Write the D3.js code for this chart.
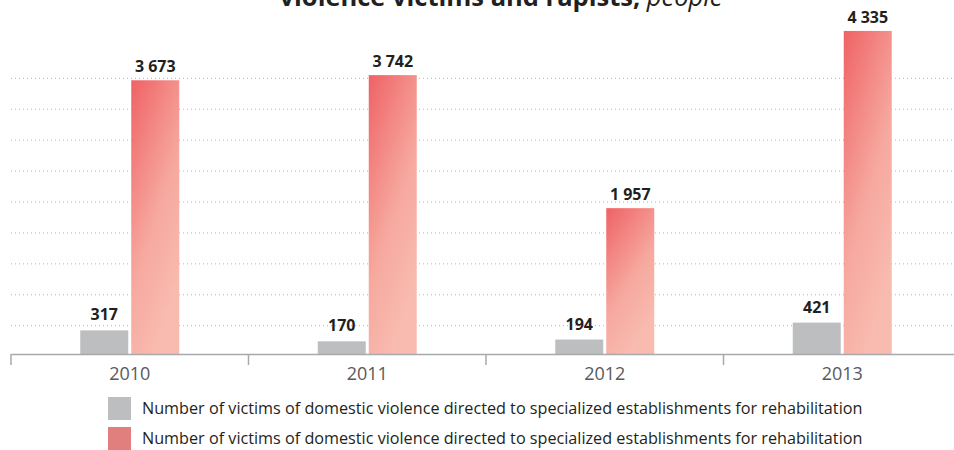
<!DOCTYPE html>
<html>
<head>
<meta charset="utf-8">
<script src="https://cdn.jsdelivr.net/npm/d3@7"></script>
<style>
    body { margin: 0; background: #fff; }
    svg { display: block; font-family: "Open Sans", "Noto Sans", sans-serif; }
</style>
</head>
<body>
<svg id="chart" width="954" height="450"></svg>
<script>
// chart data
var years = ["2010", "2011", "2012", "2013"];
var victims = [317, 170, 194, 421];
var rapists = [3673, 3742, 1957, 4335];
var seriesNames = [
    "Number of victims of domestic violence directed to specialized establishments for rehabilitation",
    "Number of victims of domestic violence directed to specialized establishments for rehabilitation"
];
var gridSteps = [0, 1, 2, 3, 4, 5, 6, 7, 8];

var svg = d3.select("#chart");
var baseline = 354, left = 11, right = 961;

var x = d3.scaleBand().domain(years).range([left, right]);
var y = d3.scaleLinear().domain([0, 4750]).range([baseline, 0]);
var grid = d3.scaleLinear().domain([0, 8]).range([325.7, 78.3]);

var defs = svg.append("defs");
var grad = defs.append("linearGradient").attr("id", "redGrad")
    .attr("x1", "0").attr("y1", "0").attr("x2", "0.5").attr("y2", "1");
grad.append("stop").attr("offset", "0%").attr("stop-color", "#ef6265");
grad.append("stop").attr("offset", "60%").attr("stop-color", "#f6a89e");
grad.append("stop").attr("offset", "100%").attr("stop-color", "#f9bbb0");

// title (its first line is cut off at the top in the source)
var title = svg.append("text").attr("x", 501).attr("y", 6)
    .attr("text-anchor", "middle").attr("font-size", 25.5).attr("fill", "#231f20");
title.append("tspan").attr("font-weight", "bold").text("violence victims and rapists, ");
title.append("tspan").attr("font-style", "italic").text("people");

// dotted grid
svg.append("g").selectAll("line").data(gridSteps).join("line")
    .attr("x1", left).attr("x2", 954)
    .attr("y1", function (d) { return grid(d); })
    .attr("y2", function (d) { return grid(d); })
    .attr("stroke", "#b5b5b5").attr("stroke-width", 1)
    .attr("stroke-dasharray", "1,3");

var barW = 48, gap = 3;
var groups = svg.append("g").selectAll("g").data(years).join("g")
    .attr("transform", function (d) { return "translate(" + (x(d) + x.bandwidth() / 2) + ",0)"; });

groups.append("rect")
    .attr("x", -barW - gap / 2)
    .attr("y", function (d, i) { return y(victims[i]); })
    .attr("width", barW)
    .attr("height", function (d, i) { return baseline - y(victims[i]); })
    .attr("fill", "#bcbec0");

groups.append("rect")
    .attr("x", gap / 2)
    .attr("y", function (d, i) { return y(rapists[i]); })
    .attr("width", barW)
    .attr("height", function (d, i) { return baseline - y(rapists[i]); })
    .attr("fill", "url(#redGrad)");

var fmt = function (v) { return d3.format(",")(v).replace(/,/g, " "); };

groups.append("text")
    .attr("x", -barW / 2 - gap / 2)
    .attr("y", function (d, i) { return y(victims[i]) - 10; })
    .attr("text-anchor", "middle").attr("font-size", 16).attr("font-weight", "bold")
    .attr("fill", "#231f20")
    .text(function (d, i) { return fmt(victims[i]); });

groups.append("text")
    .attr("x", barW / 2 + gap / 2)
    .attr("y", function (d, i) { return y(rapists[i]) - 8; })
    .attr("text-anchor", "middle").attr("font-size", 16).attr("font-weight", "bold")
    .attr("fill", "#231f20")
    .text(function (d, i) { return fmt(rapists[i]); });

// x axis
var axis = svg.append("g").attr("transform", "translate(0," + baseline + ")")
    .call(d3.axisBottom(x).tickSize(0).tickPadding(13));
axis.select(".domain").attr("stroke", "#a7a9ac").attr("stroke-width", 1.5);
axis.selectAll(".tick text").attr("font-size", 18).attr("fill", "#58595b")
    .attr("font-family", "\"Open Sans\", sans-serif");
axis.selectAll("line.sep").data(x.domain()).join("line").attr("class", "sep")
    .attr("x1", function (d) { return x(d); }).attr("x2", function (d) { return x(d); })
    .attr("y1", 0).attr("y2", 11)
    .attr("stroke", "#a7a9ac").attr("stroke-width", 1.5);

// legend
var legendColors = ["#bcbec0", "#e07f7e"];
var legend = svg.append("g").selectAll("g").data(seriesNames).join("g")
    .attr("transform", function (d, i) { return "translate(108," + (397 + i * 30) + ")"; });
legend.append("rect").attr("width", 23).attr("height", 23)
    .attr("fill", function (d, i) { return legendColors[i]; });
legend.append("text").attr("x", 34).attr("y", 17)
    .attr("font-size", 16.2).attr("fill", "#231f20")
    .text(function (d) { return d; });
</script>
</body>
</html>
